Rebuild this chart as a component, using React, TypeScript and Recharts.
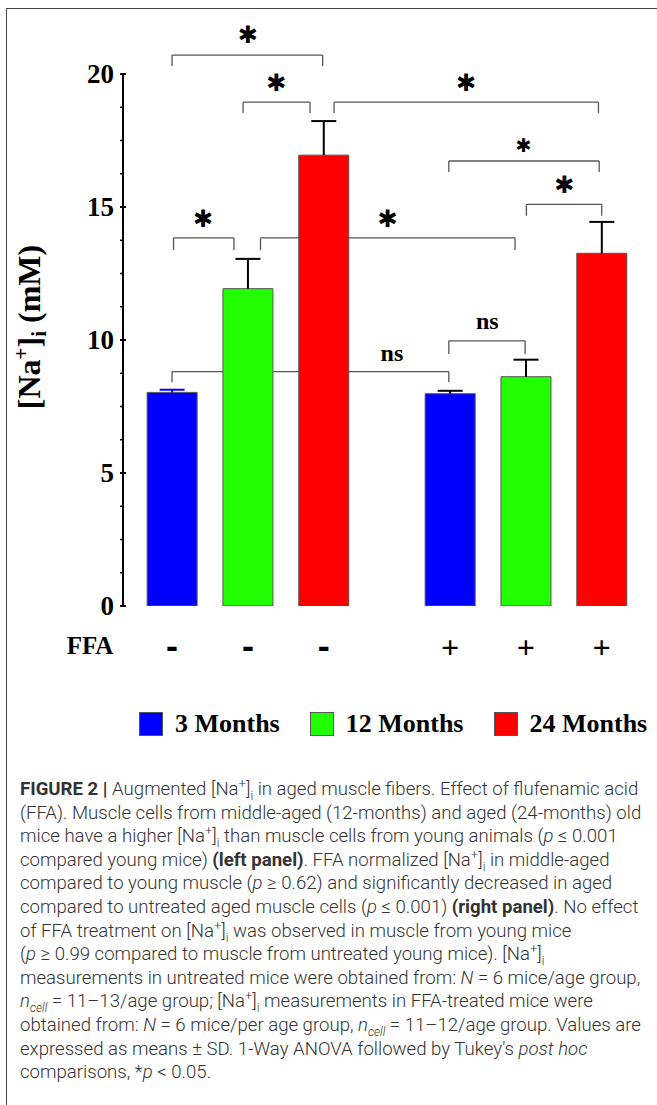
import React from 'react';
import { BarChart, Bar, XAxis, YAxis, Cell, ReferenceLine, ReferenceDot, Legend } from 'recharts';

// ---- data ----
const ageGroups = ['3 Months', '12 Months', '24 Months'];
const ageColors = ['#0000ff', '#22ff00', '#ff0000'];
const barPositions = [0, 3, 6, 11, 14, 17];
const barAgeIndex = [0, 1, 2, 0, 1, 2];
const ffaLabels = ['-', '-', '-', '+', '+', '+'];
const meanNa = [8.03, 11.93, 16.95, 7.98, 8.62, 13.26];
const sdNa = [0.1, 1.12, 1.28, 0.11, 0.64, 1.18];
const whiskerColors = ['#0000ff', '#000000', '#000000', '#000000', '#000000', '#000000'];
const majorTicks = [0, 5, 10, 15, 20];
const minorTicks = [1.25, 2.5, 3.75, 6.25, 7.5, 8.75, 11.25, 12.5, 13.75, 16.25, 17.5, 18.75];

// significance brackets (x in bar-position units, y in mM)
const brackets = [
  { x1: 0, x2: 5.96, y: 20.71, leg: 0.41, text: '✱', tx: 3.0, ty: 21.47, size: 24 },
  { x1: 2.81, x2: 5.46, y: 18.94, leg: 0.41, text: '✱', tx: 4.13, ty: 19.66, size: 24 },
  { x1: 6.41, x2: 16.87, y: 18.94, leg: 0.41, text: '✱', tx: 11.63, ty: 19.66, size: 24 },
  { x1: 10.95, x2: 16.9, y: 16.73, leg: 0.41, text: '✱', tx: 13.91, ty: 17.33, size: 19 },
  { x1: 14.02, x2: 17.0, y: 15.1, leg: 0.43, text: '✱', tx: 15.52, ty: 15.83, size: 24 },
  { x1: 0.06, x2: 2.45, y: 13.84, leg: 0.46, text: '✱', tx: 1.23, ty: 14.54, size: 24 },
  { x1: 3.5, x2: 13.57, y: 13.84, leg: 0.46, text: '✱', tx: 8.53, ty: 14.54, size: 24 },
  { x1: 0.0, x2: 10.95, y: 8.81, leg: 0.4, text: 'ns', tx: 8.7, ty: 9.51, size: 24 },
  { x1: 10.95, x2: 13.97, y: 9.97, leg: 0.5, text: 'ns', tx: 12.47, ty: 10.73, size: 24 },
];

const rows = barPositions.map((pos, i) => ({
  pos,
  mean: meanNa[i],
  sd: sdNa[i],
  age: barAgeIndex[i],
  whisker: whiskerColors[i],
  ffa: ffaLabels[i],
}));

const allYTicks = [...majorTicks, ...minorTicks].sort((a, b) => a - b);

const SERIF = '"Liberation Serif", "Times New Roman", serif';

const YTick = (props: any) => {
  const { x, y, payload } = props;
  const v = payload.value;
  const major = majorTicks.includes(v);
  return (
    <g>
      <line x1={x - 1} x2={x + (major ? 5 : 3)} y1={y} y2={y} stroke="#000" strokeWidth={major ? 2 : 1.5} />
      {major && (
        <text x={x - 7} y={y} textAnchor="end" dominantBaseline="central" fontFamily={SERIF} fontWeight="bold" fontSize={27} fill="#000">
          {v}
        </text>
      )}
    </g>
  );
};

const FfaTick = (props: any) => {
  const { x, y, payload } = props;
  const idx = barPositions.indexOf(payload.value);
  const label = ffaLabels[idx];
  const isMinus = label === '-';
  return (
    <text
      x={x}
      y={y + 39}
      textAnchor="middle"
      dominantBaseline="central"
      fontFamily={isMinus ? '"DejaVu Sans", sans-serif' : SERIF}
      fontWeight="bold"
      fontSize={isMinus ? 30 : 32}
      fill="#000"
    >
      {label}
    </text>
  );
};

const Whisker = (props: any) => {
  const { x, y, width, height, payload } = props;
  if (x == null || y == null) return null;
  const cx = x + width / 2;
  const color = (payload && payload.whisker) || '#000';
  return (
    <g>
      <line x1={cx} x2={cx} y1={y} y2={y + height} stroke={color} strokeWidth={2} />
      <line x1={cx - 12.5} x2={cx + 12.5} y1={y} y2={y} stroke={color} strokeWidth={2} />
    </g>
  );
};

const YLabel = () => (
  <text
    transform="translate(40,327) rotate(-90)"
    textAnchor="middle"
    fontFamily={SERIF}
    fontWeight="bold"
    fontSize={32}
    fill="#000"
  >
    <tspan>[Na</tspan>
    <tspan fontSize={21} dy={-12}>+</tspan>
    <tspan dy={12}>]</tspan>
    <tspan fontSize={21} dy={6}>i</tspan>
    <tspan dy={-6}> (mM)</tspan>
  </text>
);

const FfaLabel = () => (
  <text x={90} y={645} textAnchor="middle" dominantBaseline="central" fontFamily={SERIF} fontWeight="bold" fontSize={25} fill="#000">
    FFA
  </text>
);

const LegendContent = () => (
  <div style={{ position: 'relative', width: 657, height: 30 }}>
    <div style={{ position: 'absolute', left: 139, top: 0, display: 'flex', alignItems: 'center', gap: 30 }}>
      {ageGroups.map((g, i) => (
        <div key={g} style={{ display: 'flex', alignItems: 'center' }}>
          <div style={{ width: 22, height: 22, background: ageColors[i], border: '1px solid #555', marginRight: 12 }} />
          <span style={{ fontFamily: SERIF, fontWeight: 'bold', fontSize: 26, color: '#000', lineHeight: '30px' }}>{g}</span>
        </div>
      ))}
    </div>
  </div>
);

const supStyle: React.CSSProperties = { fontSize: '0.7em', verticalAlign: 'super', lineHeight: 0 };
const subStyle: React.CSSProperties = { fontSize: '0.65em', verticalAlign: 'sub', lineHeight: 0 };
const Na = () => (
  <>
    [Na<sup style={supStyle}>+</sup>]<sub style={subStyle}>i</sub>
  </>
);

const captionLines: React.ReactNode[] = [
  <><b style={{ fontWeight: 700 }}>FIGURE 2 |</b> Augmented <Na /> in aged muscle fibers. Effect of flufenamic acid</>,
  <>(FFA). Muscle cells from middle-aged (12-months) and aged (24-months) old</>,
  <>mice have a higher <Na /> than muscle cells from young animals (<i>p</i> ≤ 0.001</>,
  <>compared young mice) <b style={{ fontWeight: 700 }}>(left panel)</b>. FFA normalized <Na /> in middle-aged</>,
  <>compared to young muscle (<i>p</i> ≥ 0.62) and significantly decreased in aged</>,
  <>compared to untreated aged muscle cells (<i>p</i> ≤ 0.001) <b style={{ fontWeight: 700 }}>(right panel)</b>. No effect</>,
  <>of FFA treatment on <Na /> was observed in muscle from young mice</>,
  <>(<i>p</i> ≥ 0.99 compared to muscle from untreated young mice). <Na /></>,
  <>measurements in untreated mice were obtained from: <i>N</i> = 6 mice/age group,</>,
  <><i>n<sub style={subStyle}>cell</sub></i> = 11–13/age group; <Na /> measurements in FFA-treated mice were</>,
  <>obtained from: <i>N</i> = 6 mice/per age group, <i>n<sub style={subStyle}>cell</sub></i> = 11–12/age group. Values are</>,
  <>expressed as means ± SD. 1-Way ANOVA followed by Tukey's <i>post hoc</i></>,
  <>comparisons, *<i>p</i> &lt; 0.05.</>,
];

export default function App() {
  return (
    <div style={{ position: 'absolute', left: 0, top: 0, width: 657, height: 1105, background: '#fff', overflow: 'hidden' }}>
      <div style={{ position: 'absolute', left: 6, top: 8, width: 651, height: 1097, borderTop: '1.5px solid #444', borderLeft: '1.5px solid #444', boxSizing: 'border-box' }} />
      <div style={{ position: 'absolute', left: 0, top: 0 }}>
        <BarChart width={657} height={760} data={rows} margin={{ top: 74, right: 7, bottom: 124, left: 23 }}>
          <XAxis
            type="number"
            dataKey="pos"
            domain={[-1.94, 18.91]}
            ticks={barPositions}
            interval={0}
            tick={FfaTick}
            axisLine={false}
            tickLine={false}
            tickSize={0}
            height={30}
            allowDataOverflow
            label={FfaLabel}
          />
          <YAxis
            type="number"
            domain={[0, 20]}
            ticks={allYTicks}
            interval={0}
            tick={YTick}
            tickLine={false}
            tickSize={0}
            width={100}
            axisLine={{ stroke: '#000', strokeWidth: 2 }}
            allowDataOverflow
            label={YLabel}
          />
          {brackets.map((b, i) => (
            <ReferenceLine key={`h${i}`} segment={[{ x: b.x1, y: b.y }, { x: b.x2, y: b.y }]} stroke="#555" strokeWidth={1.3} ifOverflow="visible" zIndex={100} />
          ))}
          {brackets.map((b, i) => (
            <ReferenceLine key={`l${i}`} segment={[{ x: b.x1, y: b.y }, { x: b.x1, y: b.y - b.leg }]} stroke="#555" strokeWidth={1.3} ifOverflow="visible" zIndex={100} />
          ))}
          {brackets.map((b, i) => (
            <ReferenceLine key={`r${i}`} segment={[{ x: b.x2, y: b.y }, { x: b.x2, y: b.y - b.leg }]} stroke="#555" strokeWidth={1.3} ifOverflow="visible" zIndex={100} />
          ))}
          <Bar dataKey="mean" stackId="a" barSize={50} stroke="#555" strokeWidth={1} isAnimationActive={false}>
            {rows.map((r, i) => (
              <Cell key={i} fill={ageColors[r.age]} />
            ))}
          </Bar>
          <Bar dataKey="sd" stackId="a" barSize={50} shape={Whisker} isAnimationActive={false} />
          {brackets.map((b, i) => (
            <ReferenceDot
              key={`t${i}`}
              x={b.tx}
              y={b.ty}
              r={0}
              ifOverflow="visible"
              shape={(p: any) => (
                <text
                  x={p.cx}
                  y={p.cy}
                  textAnchor="middle"
                  dominantBaseline="central"
                  fontFamily={b.text === 'ns' ? SERIF : '"DejaVu Sans", sans-serif'}
                  fontWeight="bold"
                  fontSize={b.size}
                  fill="#000"
                >
                  {b.text}
                </text>
              )}
            />
          ))}
          <Legend
            layout="horizontal"
            verticalAlign="middle"
            align="center"
            wrapperStyle={{ top: 709, left: 0, width: 657 }}
            content={LegendContent}
          />
        </BarChart>
      </div>
      <div
        style={{
          position: 'absolute',
          left: 20,
          top: 778,
          fontFamily: 'Roboto, "Liberation Sans", sans-serif',
          fontWeight: 300,
          fontSize: 18.6,
          lineHeight: '23.6px',
          color: '#333',
        }}
      >
        {captionLines.map((l, i) => (
          <div key={i} style={{ whiteSpace: 'nowrap' }}>
            {l}
          </div>
        ))}
      </div>
    </div>
  );
}
